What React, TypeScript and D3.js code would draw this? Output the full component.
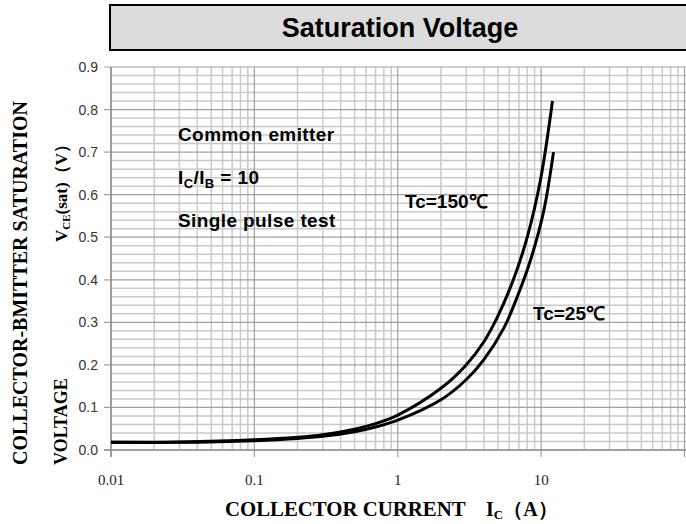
import React from "react";
import * as d3 from "d3";

const W = 686;
const H = 524;

const xTickValues = [0.01, 0.1, 1, 10];
const xTickLabels = ["0.01", "0.1", "1", "10"];
const yTickValues = [0, 0.1, 0.2, 0.3, 0.4, 0.5, 0.6, 0.7, 0.8, 0.9];
const yTickLabels = ["0.0", "0.1", "0.2", "0.3", "0.4", "0.5", "0.6", "0.7", "0.8", "0.9"];

// Tc = 150 °C
const ic150 = [0.01, 0.03, 0.1, 0.2, 0.3, 0.5, 0.7, 1, 2, 3, 4, 5, 6.4, 8, 9.9, 12];
const v150 = [0.018, 0.019, 0.024, 0.03, 0.036, 0.049, 0.062, 0.082, 0.145, 0.2, 0.255, 0.315, 0.4, 0.5, 0.635, 0.82];
// Tc = 25 °C
const ic25 = [0.01, 0.03, 0.1, 0.2, 0.3, 0.5, 0.7, 1, 2, 3, 4, 5.5, 7, 8.5, 10.4, 12.2];
const v25 = [0.018, 0.018, 0.022, 0.027, 0.032, 0.043, 0.054, 0.07, 0.118, 0.165, 0.213, 0.287, 0.37, 0.45, 0.56, 0.7];

export default function App() {
  const x = d3.scaleLog().domain([0.01, 100]).range([111, 684.5]);
  const y = d3.scaleLinear().domain([0, 0.9]).range([450, 67]);

  const minorX: number[] = [];
  for (let d = -2; d <= 1; d++) {
    for (let k = 2; k <= 9; k++) minorX.push(k * Math.pow(10, d));
  }
  const majorX = [0.01, 0.1, 1, 10, 100];
  const minorY: number[] = [];
  for (let i = 0; i <= 45; i++) {
    if (i % 5 !== 0) minorY.push(i * 0.02);
  }

  const line = d3
    .line<[number, number]>()
    .x((d) => x(d[0]))
    .y((d) => y(d[1]))
    .curve(d3.curveCatmullRom.alpha(0.5));

  const d150 = line(ic150.map((c, i) => [c, v150[i]] as [number, number])) || "";
  const d25 = line(ic25.map((c, i) => [c, v25[i]] as [number, number])) || "";

  const sans = "'Liberation Sans', Arial, sans-serif";
  const serif = "'Liberation Serif', 'Times New Roman', serif";

  return (
    <svg
      width={W}
      height={H}
      style={{ position: "absolute", left: 0, top: 0, background: "#fff" }}
    >
      {/* title box */}
      <rect x={110} y={5} width={590} height={45} fill="#dcdcdc" stroke="#000" strokeWidth={2} />
      <text x={400} y={37} textAnchor="middle" fontFamily={sans} fontWeight="bold" fontSize={27} fill="#000">
        Saturation Voltage
      </text>

      {/* grid */}
      {minorY.map((v) => (
        <line key={"my" + v} x1={x(0.01)} x2={W} y1={y(v)} y2={y(v)} stroke="#c8c8c8" strokeWidth={1.5} />
      ))}
      {minorX.map((v) => (
        <line key={"mx" + v} x1={x(v)} x2={x(v)} y1={y(0.9)} y2={y(0)} stroke="#cacaca" strokeWidth={1.5} />
      ))}
      {yTickValues.map((v) => (
        <line key={"My" + v} x1={x(0.01) - 7} x2={W} y1={y(v)} y2={y(v)} stroke="#a0a0a0" strokeWidth={1.2} />
      ))}
      {majorX.map((v) => (
        <line key={"Mx" + v} x1={x(v)} x2={x(v)} y1={y(0.9)} y2={y(0) + 7} stroke="#a0a0a0" strokeWidth={1.2} />
      ))}
      <line x1={x(0.01)} x2={x(0.01)} y1={y(0.9)} y2={y(0) + 7} stroke="#909090" strokeWidth={1.5} />
      <line x1={x(0.01) - 7} x2={W} y1={y(0)} y2={y(0)} stroke="#909090" strokeWidth={1.5} />

      {/* tick labels */}
      {yTickValues.map((v, i) => (
        <text key={"yl" + v} x={98} y={y(v) + 5} textAnchor="end" fontFamily={sans} fontSize={14} fill="#333">
          {yTickLabels[i]}
        </text>
      ))}
      {xTickValues.map((v, i) => (
        <text key={"xl" + v} x={x(v)} y={485} textAnchor="middle" fontFamily={serif} fontSize={15} fill="#222">
          {xTickLabels[i]}
        </text>
      ))}

      {/* curves */}
      <path d={d150} fill="none" stroke="#000" strokeWidth={3} />
      <path d={d25} fill="none" stroke="#000" strokeWidth={3} />

      {/* annotations */}
      <g fontFamily={sans} fontWeight="bold" fontSize={19} fill="#000" letterSpacing={0.4}>
        <text x={178} y={141}>Common emitter</text>
        <text x={178} y={184}>
          I<tspan fontSize={13} dy={4}>C</tspan>
          <tspan dy={-4}>/I</tspan>
          <tspan fontSize={13} dy={4}>B</tspan>
          <tspan dy={-4}> = 10</tspan>
        </text>
        <text x={178} y={227}>Single pulse test</text>
        <text x={405} y={208} letterSpacing={0}>Tc=150℃</text>
        <text x={533} y={320} letterSpacing={0}>Tc=25℃</text>
      </g>

      {/* axis titles */}
      <text x={225} y={516} fontFamily={serif} fontWeight="bold" fontSize={20.8} fill="#000">
        COLLECTOR CURRENT
      </text>
      <text x={486} y={516} fontFamily={serif} fontWeight="bold" fontSize={20} fill="#000">
        I<tspan fontSize={13} dy={3}>C</tspan>
        <tspan dy={-3}>（A）</tspan>
      </text>

      <text transform={`translate(27,465) rotate(-90)`} fontFamily={serif} fontWeight="bold" fontSize={20} fill="#000">
        COLLECTOR-BMITTER SATURATION
      </text>
      <text transform={`translate(67,465) rotate(-90)`} fontFamily={serif} fontWeight="bold" fontSize={18} fill="#000">
        VOLTAGE
      </text>
      <text transform={`translate(67,242) rotate(-90)`} fontFamily={serif} fontWeight="bold" fontSize={17} fill="#000">
        V<tspan fontSize={11} dy={3}>CE</tspan>
        <tspan dy={-3}>(sat)（V）</tspan>
      </text>
    </svg>
  );
}
